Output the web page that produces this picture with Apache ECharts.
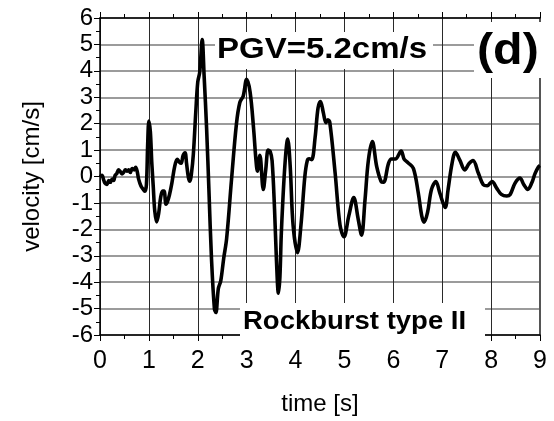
<!DOCTYPE html>
<html>
<head>
<meta charset="utf-8">
<script src="https://cdn.jsdelivr.net/npm/echarts@6/dist/echarts.min.js"></script>
<style>
  html, body { margin: 0; padding: 0; background: #fff; }
  #chart { width: 554px; height: 421px; }
</style>
</head>
<body>
<div id="chart"></div>
<script>
// Ground velocity record, time in seconds and velocity in cm/s
const timeS = [
  0.00, 0.04, 0.07, 0.10, 0.14, 0.18, 0.21, 0.25, 0.28, 0.31, 0.34, 0.38, 0.41, 0.45, 0.48,
  0.52, 0.55, 0.59, 0.62, 0.66, 0.70, 0.73, 0.76, 0.79, 0.84, 0.89, 0.92, 0.95, 0.975, 1.00,
  1.03, 1.06, 1.09, 1.12, 1.16, 1.20, 1.24, 1.28, 1.31, 1.35, 1.38, 1.42, 1.47, 1.53, 1.58,
  1.62, 1.66, 1.70, 1.74, 1.77, 1.81, 1.84, 1.87, 1.91, 1.96, 2.00, 2.04, 2.09, 2.13, 2.18,
  2.23, 2.28, 2.34, 2.37, 2.42, 2.47, 2.53, 2.59, 2.69, 2.79, 2.86, 2.93, 3.00, 3.07, 3.14,
  3.19, 3.22, 3.27, 3.34, 3.39, 3.44, 3.48, 3.52, 3.57, 3.61, 3.65, 3.68, 3.71, 3.78, 3.84,
  3.89, 3.95, 4.04, 4.11, 4.19, 4.24, 4.28, 4.33, 4.40, 4.46, 4.51, 4.57, 4.62, 4.66, 4.70,
  4.81, 4.91, 4.99, 5.09, 5.19, 5.28, 5.35, 5.42, 5.49, 5.57, 5.66, 5.75, 5.80, 5.90, 5.96,
  6.04, 6.16, 6.22, 6.30, 6.41, 6.51, 6.58, 6.63, 6.70, 6.78, 6.87, 6.95, 7.06, 7.12, 7.20,
  7.27, 7.36, 7.46, 7.55, 7.63, 7.74, 7.84, 7.92, 8.02, 8.11, 8.21, 8.32, 8.39, 8.49, 8.59,
  8.67, 8.75, 8.83, 8.90, 8.97, 9.00
];
const velocity = [
  0.00, 0.05, -0.10, -0.25, -0.30, -0.15, -0.22, -0.10, -0.15, 0.05, 0.10, 0.25, 0.20, 0.10, 0.15,
  0.25, 0.20, 0.25, 0.15, 0.30, 0.25, 0.35, 0.20, -0.10, -0.37, -0.50, -0.56, -0.30, 1.20, 2.10,
  1.70, 0.50, -0.40, -1.30, -1.72, -1.40, -0.80, -0.55, -0.55, -1.05, -0.95, -0.70, -0.25, 0.40, 0.65,
  0.55, 0.50, 0.80, 0.90, 0.50, -0.05, -0.18, 0.10, 0.86, 2.47, 3.58, 3.95, 5.18, 3.80, 1.85,
  -0.62, -3.09, -5.00, -5.15, -4.25, -3.95, -3.10, -2.35, -0.12, 1.98, 2.80, 3.05, 3.68, 3.20, 1.85,
  0.62, 0.20, 0.80, -0.49, 0.25, 1.00, 0.95, 0.60, -1.23, -3.20, -4.42, -3.80, -2.10, 0.37, 1.42,
  0.40, -1.85, -2.88, -1.85, 0.00, 0.60, 0.67, 0.64, 1.48, 2.59, 2.84, 2.40, 2.04, 2.15, 2.05,
  0.12, -1.85, -2.28, -1.48, -0.80, -1.60, -2.22, -0.90, 0.62, 1.32, 0.37, -0.19, -0.22, 0.49, 0.66,
  0.66, 0.96, 0.66, 0.52, 0.31, -0.62, -1.48, -1.73, -1.36, -0.49, -0.19, -0.62, -1.17, -0.49, 0.49,
  0.92, 0.62, 0.25, 0.49, 0.60, 0.12, -0.31, -0.35, -0.19, -0.43, -0.68, -0.74, -0.68, -0.25, -0.06,
  -0.31, -0.49, -0.25, 0.12, 0.37, 0.42
];

// Axis ranges and annotation texts
const timeRange = [0, 9];
const velocityRange = [-6, 6];
const peakLabel = 'PGV=5.2cm/s';
const panelLabel = '(d)';
const typeLabel = 'Rockburst type II';

const FONT = '"Liberation Sans", Arial, Helvetica, sans-serif';

const chart = echarts.init(document.getElementById('chart'), null, { renderer: 'canvas' });

const points = timeS.map((t, i) => [t, velocity[i]]);

const option = {
  backgroundColor: '#fff',
  animation: false,
  grid: { left: 100, right: 14, top: 18, bottom: 78 },
  xAxis: [
    {
      type: 'value', min: timeRange[0], max: timeRange[1], interval: 1,
      position: 'bottom',
      name: 'time [s]', nameLocation: 'middle', nameGap: 57,
      nameTextStyle: { fontFamily: FONT, fontSize: 24, color: '#000' },
      axisLine: { onZero: false, lineStyle: { color: '#000', width: 1.5 } },
      axisTick: { inside: false, length: 6, lineStyle: { color: '#000', width: 1 } },
      minorTick: { show: true, splitNumber: 2, length: 4, lineStyle: { color: '#000', width: 1 } },
      axisLabel: { fontFamily: FONT, fontSize: 25, color: '#000', margin: 14 },
      splitLine: { show: true, lineStyle: { color: '#2a2a2a', width: 1 } }
    },
    {
      type: 'value', min: timeRange[0], max: timeRange[1], interval: 1,
      position: 'top',
      axisLine: { onZero: false, lineStyle: { color: '#000', width: 1.5 } },
      axisTick: { inside: false, length: 6, lineStyle: { color: '#000', width: 1 } },
      minorTick: { show: true, splitNumber: 2, length: 4, lineStyle: { color: '#000', width: 1 } },
      axisLabel: { show: false },
      splitLine: { show: false }
    }
  ],
  yAxis: [
    {
      type: 'value', min: velocityRange[0], max: velocityRange[1], interval: 1,
      position: 'left',
      name: 'velocity [cm/s]', nameLocation: 'middle', nameGap: 56,
      nameTextStyle: { fontFamily: FONT, fontSize: 24, color: '#000' },
      axisLine: { onZero: false, lineStyle: { color: '#000', width: 1.5 } },
      axisTick: { inside: false, length: 6, lineStyle: { color: '#000', width: 1 } },
      minorTick: { show: true, splitNumber: 2, length: 4, lineStyle: { color: '#000', width: 1 } },
      axisLabel: { fontFamily: FONT, fontSize: 24, color: '#000', margin: 7 },
      splitLine: { show: true, lineStyle: { color: '#7a7a7a', width: 1.5 } }
    },
    {
      type: 'value', min: velocityRange[0], max: velocityRange[1], interval: 1,
      position: 'right',
      axisLine: { show: true, onZero: false, lineStyle: { color: '#555', width: 2 } },
      axisTick: { show: false },
      axisLabel: { show: false },
      splitLine: { show: false }
    }
  ],
  series: [
    {
      type: 'line',
      xAxisIndex: 0, yAxisIndex: 0,
      data: points,
      showSymbol: false,
      smooth: 0.35,
      lineStyle: { color: '#000', width: 3.6 },
      z: 5
    }
  ],
  graphic: [
    { type: 'rect', z: 3, shape: { x: 215, y: 32, width: 218, height: 37 }, style: { fill: '#fff' } },
    { type: 'text', z: 4, x: 217, y: 50, scaleX: 1.1,
      style: { text: peakLabel, font: 'bold 30px ' + FONT, fill: '#000', textAlign: 'left', textVerticalAlign: 'middle' } },
    { type: 'rect', z: 3, shape: { x: 474, y: 22, width: 80, height: 56 }, style: { fill: '#fff' } },
    { type: 'text', z: 4, x: 477, y: 52, scaleX: 1.1,
      style: { text: panelLabel, font: 'bold 44px ' + FONT, fill: '#000', textAlign: 'left', textVerticalAlign: 'middle' } },
    { type: 'rect', z: 3, shape: { x: 240, y: 303, width: 245, height: 38 }, style: { fill: '#fff' } },
    { type: 'text', z: 4, x: 243, y: 322, scaleX: 1.1,
      style: { text: typeLabel, font: 'bold 25px ' + FONT, fill: '#000', textAlign: 'left', textVerticalAlign: 'middle' } }
  ]
};

chart.setOption(option);
</script>
</body>
</html>
